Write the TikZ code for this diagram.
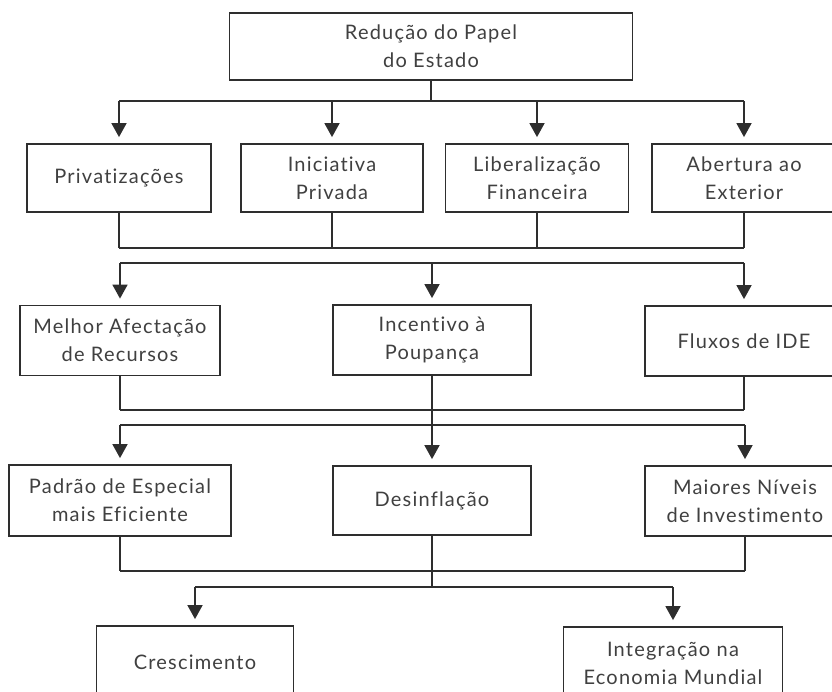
\documentclass[tikz,border=0pt]{standalone}
\usepackage{fontspec}
\setmainfont{Lato}[LetterSpace=6,Ligatures={NoCommon,NoRare,NoDiscretionary}]
\usetikzlibrary{arrows.meta}
\definecolor{ln}{HTML}{2E2E2E}
\definecolor{tx}{HTML}{404040}
\begin{document}
\begin{tikzpicture}[x=1pt,y=-1pt,
  box/.style={draw=ln,line width=1.8pt,fill=white,inner sep=0pt,align=center,
    text=tx,font=\fontsize{20}{28}\selectfont,minimum height=68pt},
  wire/.style={draw=ln,line width=1.7pt},
  arr/.style={wire,-{Triangle[width=15pt,length=14pt]},shorten >=6pt}]
\useasboundingbox (0,0) rectangle (832,691);
\clip (0,0) rectangle (832,691);
% nodes
\node[box,minimum width=403pt,minimum height=67pt] (top) at (431,46.5) {Redução do Papel\\do Estado};
\node[box,minimum width=184pt] (priv) at (119,178) {Privatizações};
\node[box,minimum width=182pt] (inic) at (332,178) {Iniciativa\\Privada};
\node[box,minimum width=183pt] (lib) at (537,178) {Liberalização\\Financeira};
\node[box,minimum width=184pt] (abe) at (744,178) {Abertura ao\\Exterior};
\node[box,minimum width=200pt,minimum height=70pt] (mel) at (120,340.5) {Melhor Afectação\\de Recursos};
\node[box,minimum width=198pt,minimum height=70pt] (inc) at (432,340) {Incentivo à\\Poupança};
\node[box,minimum width=198pt,minimum height=70pt] (flu) at (744,341) {Fluxos de IDE};
\node[box,minimum width=222pt,minimum height=71pt] (pad) at (120,500.5) {Padrão de Especial\\mais Eficiente};
\node[box,minimum width=198pt,minimum height=69pt] (des) at (432,500.5) {Desinflação};
\node[box,minimum width=200pt,minimum height=70pt] (mai) at (745,501) {Maiores Níveis\\de Investimento};
\node[box,minimum width=197pt,minimum height=72pt] (cre) at (195,662) {Crescimento};
\node[box,minimum width=219pt,minimum height=72pt] (int) at (673,663) {Integração na\\Economia Mundial};
% bus coordinates
\coordinate (b1) at (431,101);
\coordinate (b2) at (431,248);
\coordinate (b3) at (431,263);
\coordinate (b4) at (432,410);
\coordinate (b5) at (432,425);
\coordinate (b6) at (432,571);
\coordinate (b7) at (432,587);
% level 1 -> 2
\draw[wire] (top.south -| b1) -- (b1);
\draw[wire] (priv.north |- b1) -- (abe.north |- b1);
\foreach \n in {priv,inic,lib,abe} \draw[arr] (\n.north |- b1) -- (\n.north);
% level 2 -> 3
\foreach \n in {priv,inic,lib,abe} \draw[wire] (\n.south) -- (\n.south |- b2);
\draw[wire] (priv.south |- b2) -- (abe.south |- b2);
\draw[wire] (mel.north |- b3) -- (flu.north |- b3);
\foreach \n in {mel,inc,flu} \draw[arr] (\n.north |- b3) -- (\n.north);
% level 3 -> 4
\foreach \n in {mel,inc,flu} \draw[wire] (\n.south) -- (\n.south |- b4);
\draw[wire] (mel.south |- b4) -- (flu.south |- b4);
\draw[wire] (pad.north |- b5) -- (mai.north |- b5);
\draw[wire] (inc.south |- b4) -- (inc.south |- b5);
\foreach \n in {pad,des,mai} \draw[arr] (\n.north |- b5) -- (\n.north);
% level 4 -> 5
\foreach \n in {pad,des,mai} \draw[wire] (\n.south) -- (\n.south |- b6);
\draw[wire] (pad.south |- b6) -- (mai.south |- b6);
\draw[wire] (des.south |- b6) -- (des.south |- b7);
\draw[wire] (cre.north |- b7) -- (int.north |- b7);
\foreach \n in {cre,int} \draw[arr] (\n.north |- b7) -- (\n.north);
\end{tikzpicture}
\end{document}
